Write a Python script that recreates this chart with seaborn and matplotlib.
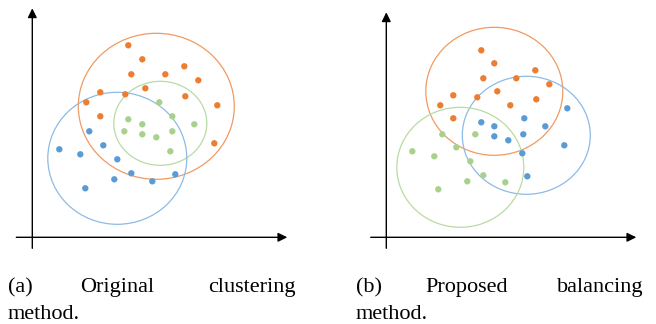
import matplotlib
matplotlib.use("Agg")
import matplotlib.pyplot as plt
from matplotlib.patches import Ellipse
import seaborn as sns
import pandas as pd

sns.set_style("white")
plt.rcParams["font.family"] = ["Liberation Serif", "DejaVu Serif"]

# ---- (a) original clustering -------------------------------------------
a_orange_x = [96, 110, 152, 99, 133, 166, 113, 68, 93, 153, 54, 185, 68, 182]
a_orange_y = [192, 178, 171, 163, 163, 157, 149, 145, 143, 141, 135, 132, 121, 94]
a_green_x = [127, 140, 96, 110, 162, 92, 110, 140, 124, 138]
a_green_y = [135, 121, 118, 113, 113, 106, 103, 106, 100, 86]
a_blue_x = [57, 71, 27, 48, 85, 99, 143, 82, 120, 53]
a_blue_y = [106, 92, 88, 83, 78, 64, 63, 58, 56, 49]
# cluster outlines: (cx, cy, width, height)
a_rings = {"orange": (124, 131, 156, 146),
           "green": (128, 114, 93, 84),
           "blue": (85, 79, 139, 132)}

# ---- (b) proposed balancing -------------------------------------------
b_orange_x = [95, 108, 149, 97, 130, 163, 111, 67, 91, 150, 54, 124, 67]
b_orange_y = [187, 174, 167, 159, 159, 153, 146, 142, 140, 138, 132, 132, 119]
b_blue_x = [181, 138, 95, 108, 159, 108, 137, 122, 178, 136, 141]
b_blue_y = [129, 119, 115, 111, 111, 101, 103, 97, 92, 84, 61]
b_green_x = [56, 89, 70, 26, 48, 84, 97, 81, 119, 52]
b_green_y = [103, 103, 90, 86, 81, 76, 62, 56, 55, 48]
b_rings = {"orange": (108, 146, 137, 128),
           "blue": (140, 102, 128, 118),
           "green": (74, 70, 127, 120)}

dot_colors = {"orange": "#ED7D31", "green": "#A9D18E", "blue": "#5B9BD5"}
ring_colors = {"orange": "#F09A62", "green": "#B9DBA3", "blue": "#8DBBE5"}

captions = [
    [("(a)", 8, "left"), ("Original", 80.5, "left"), ("clustering", 296, "right")],
    [("(b)", 356, "left"), ("Proposed", 425, "left"), ("balancing", 643, "right")],
]
second_line = [("method.", 8), ("method.", 356)]


def frame(groups):
    rows = []
    for name, (xs, ys) in groups.items():
        rows += [{"x": x, "y": y, "cluster": name} for x, y in zip(xs, ys)]
    return pd.DataFrame(rows)


W, H = 656, 324
fig = plt.figure(figsize=(W / 100, H / 100), dpi=100)

panels = [
    dict(left=0, ox=32.3, oy=237.3, xaxis=(-16, 255), yaxis=(-11, 229),
         data=frame({"orange": (a_orange_x, a_orange_y),
                     "green": (a_green_x, a_green_y),
                     "blue": (a_blue_x, a_blue_y)}),
         rings=a_rings),
    dict(left=328, ox=386.3, oy=237.3, xaxis=(-15.6, 250), yaxis=(-11, 225),
         data=frame({"orange": (b_orange_x, b_orange_y),
                     "blue": (b_blue_x, b_blue_y),
                     "green": (b_green_x, b_green_y)}),
         rings=b_rings),
]

for p in panels:
    ax = fig.add_axes([p["left"] / W, (H - 260) / H, 328 / W, 260 / H])
    ax.set_xlim(p["left"] - p["ox"], p["left"] + 328 - p["ox"])
    ax.set_ylim(p["oy"] - 260, p["oy"])
    ax.axis("off")

    for name, (cx, cy, w, h) in p["rings"].items():
        ax.add_patch(Ellipse((cx, cy), w, h, fill=False,
                             edgecolor=ring_colors[name], lw=0.9))

    sns.scatterplot(data=p["data"], x="x", y="y", hue="cluster",
                    palette=dot_colors, s=21, linewidth=0, legend=False, ax=ax)

    arrow = dict(arrowstyle="-|>,head_length=0.55,head_width=0.27",
                 color="black", lw=1.0, shrinkA=0, shrinkB=0)
    ax.annotate("", xy=(p["xaxis"][1], 0), xytext=(p["xaxis"][0], 0),
                arrowprops=arrow)
    ax.annotate("", xy=(0, p["yaxis"][1]), xytext=(0, p["yaxis"][0]),
                arrowprops=arrow)
    ax.set_xlabel("")
    ax.set_ylabel("")

for words, (word2, x2) in zip(captions, second_line):
    for text, x, ha in words:
        fig.text(x / W, (H - 292) / H, text, ha=ha, va="baseline",
                 fontsize=16, color="black")
    fig.text(x2 / W, (H - 319) / H, word2, ha="left", va="baseline",
             fontsize=16, color="black")

fig.savefig("out.png", dpi=100, facecolor="white")
